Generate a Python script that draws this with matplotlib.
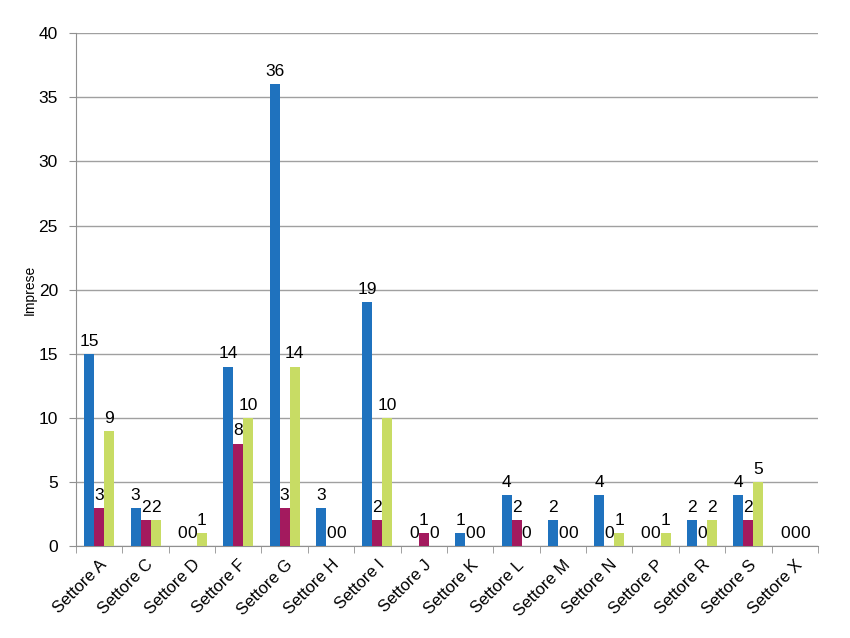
import numpy as np
from matplotlib import pyplot as plt

plt.rcParams['font.family'] = ['Liberation Sans', 'DejaVu Sans']

categories = ['Settore A', 'Settore C', 'Settore D', 'Settore F', 'Settore G', 'Settore H',
              'Settore I', 'Settore J', 'Settore K', 'Settore L', 'Settore M', 'Settore N',
              'Settore P', 'Settore R', 'Settore S', 'Settore X']
serie_1 = [15, 3, 0, 14, 36, 3, 19, 0, 1, 4, 2, 4, 0, 2, 4, 0]
serie_2 = [3, 2, 0, 8, 3, 0, 2, 1, 0, 2, 0, 0, 0, 0, 2, 0]
serie_3 = [9, 2, 1, 10, 14, 0, 10, 0, 0, 0, 0, 1, 1, 2, 5, 0]
y_ticks = [0, 5, 10, 15, 20, 25, 30, 35, 40]

colors = ['#1f72be', '#a31a5e', '#c8dc64']

fig = plt.figure(figsize=(8.5, 6.38), dpi=100)
ax = fig.add_axes([0.0894, 0.144, 0.8729, 0.804])

x = np.arange(len(categories))
w = 0.216
for i, (vals, col) in enumerate(zip([serie_1, serie_2, serie_3], colors)):
    pos = x + (i - 1) * w
    ax.bar(pos, vals, width=w, color=col, zorder=3)
    for p, v in zip(pos, vals):
        ax.text(p, v + 0.4, str(v), ha='center', va='bottom', fontsize=12.5, zorder=4)

ax.set_xlim(-0.5, len(categories) - 0.5)
ax.set_ylim(0, 40)
ax.set_yticks(y_ticks)
ax.yaxis.grid(True, color='#a0a0a0', linewidth=1, zorder=0)
ax.tick_params(axis='y', labelsize=12.5, length=5, pad=8, color='#909090', direction='out')

ax.set_xticks(x)
ax.set_xticklabels(categories, rotation=45, ha='right', rotation_mode='anchor', fontsize=12)
ax.tick_params(axis='x', length=0, pad=8)
ax.set_xticks(np.arange(-0.5, len(categories)), minor=True)
ax.tick_params(axis='x', which='minor', length=5, color='#909090')

for side in ['top', 'right']:
    ax.spines[side].set_visible(False)
for side in ['left', 'bottom']:
    ax.spines[side].set_color('#909090')

ax.set_ylabel('Imprese', fontsize=10, labelpad=1)

plt.savefig('out.png', dpi=100)
